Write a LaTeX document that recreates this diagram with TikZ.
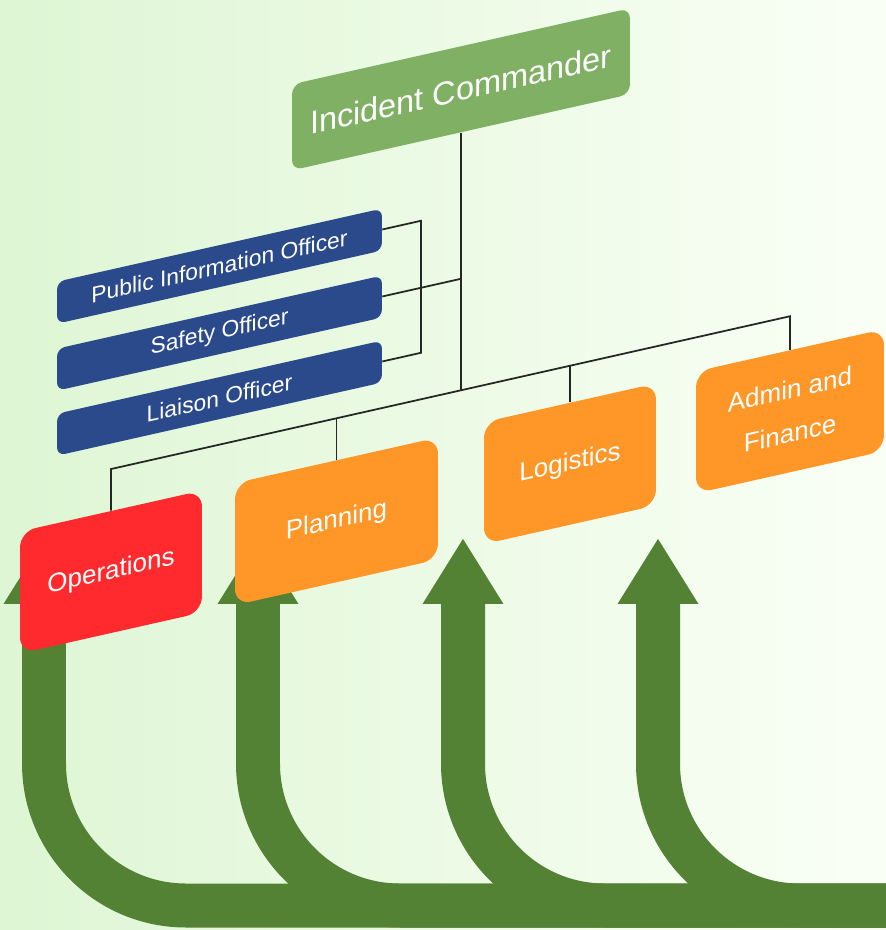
\documentclass[tikz,border=0pt]{standalone}
\usepackage{fontspec}
\setmainfont{Liberation Sans}
\usetikzlibrary{arrows.meta}

\definecolor{icgreen}{RGB}{128,176,99}
\definecolor{staffblue}{RGB}{43,74,140}
\definecolor{secorange}{RGB}{255,150,40}
\definecolor{opsred}{RGB}{255,42,46}
\definecolor{arrowgreen}{RGB}{84,130,53}
\definecolor{bgleft}{RGB}{222,246,212}
\definecolor{bgright}{RGB}{250,255,246}

\tikzset{
  box/.style={transform shape, text=white, inner sep=0pt, align=center},
  icbox/.style={box, fill=icgreen, rounded corners=0.2cm,
    minimum width=6.76cm, minimum height=1.72cm, font=\fontsize{18.5}{22}\selectfont},
  staffbox/.style={box, fill=staffblue, rounded corners=0.16cm,
    minimum width=6.5cm, minimum height=0.84cm, font=\fontsize{13}{15}\selectfont},
  secbox/.style={box, fill=secorange, rounded corners=0.32cm,
    minimum height=2.44cm, font=\fontsize{14.8}{25}\selectfont},
  orgline/.style={black!85, line width=1pt},
  bigarrow/.style={arrowgreen, line width=0.88cm,
    -{Triangle[width=1.52cm,length=1.32cm]}},
}

\begin{document}
\begin{tikzpicture}[x=0.02cm, y=-0.02cm]
  \useasboundingbox (0,0) rectangle (886,930);
  \shade[left color=bgleft, right color=bgright] (0,0) rectangle (886,930);

  % Pfeile
  \coordinate (bandR) at (886,905.5);
  \foreach \ax/\tipname in {44/tipOps, 258/tipPlan, 463/tipLog, 658/tipAdm} {
    \coordinate (\tipname) at (\ax,538);
    \draw[bigarrow] (bandR) [rounded corners=2.84cm] -- (\ax,905.5) -- (\tipname);
  }

  % Organigramm, schraeg gestellt
  \begin{scope}[yslant=0.225]
    \node[icbox] (ic) at (461,193) {Incident Commander};

    \node[staffbox] (pio)     at (219.5,315.5) {Public Information Officer};
    \node[staffbox] (safety)  at (219.5,382.5) {Safety Officer};
    \node[staffbox] (liaison) at (219.5,447.5) {Liaison Officer};

    \node[secbox, fill=opsred, minimum width=3.64cm] (ops)   at (111,597)   {Operations};
    \node[secbox, minimum width=4.06cm]             (plan)  at (336.5,597) {Planning};
    \node[secbox, minimum width=3.44cm]             (logi)  at (570,592)   {Logistics};
    \node[secbox, minimum width=3.76cm]             (admin) at (790,589)   {Admin and\\Finance};

    \coordinate (jOps)  at (111,494);
    \coordinate (jPlan) at (336.5,494);
    \coordinate (jIC)   at (461,494);
    \coordinate (jLog)  at (570,494);
    \coordinate (jAdm)  at (790,494);
    \coordinate (jSaf)  at (461,382.5);
    \coordinate (brT)   at (421,315.5);
    \coordinate (brB)   at (421,447.5);

    \draw[orgline] (ic.south) -- (jIC);
    \draw[orgline] (ops.north) -- (jOps) -- (jAdm) -- (admin.north);
    \draw[orgline] (plan.north) -- (jPlan);
    \draw[orgline] (logi.north) -- (jLog);
    \draw[orgline] (pio.east) -- (brT) -- (brB) -- (liaison.east);
    \draw[orgline] (safety.east) -- (jSaf);
  \end{scope}
\end{tikzpicture}
\end{document}
